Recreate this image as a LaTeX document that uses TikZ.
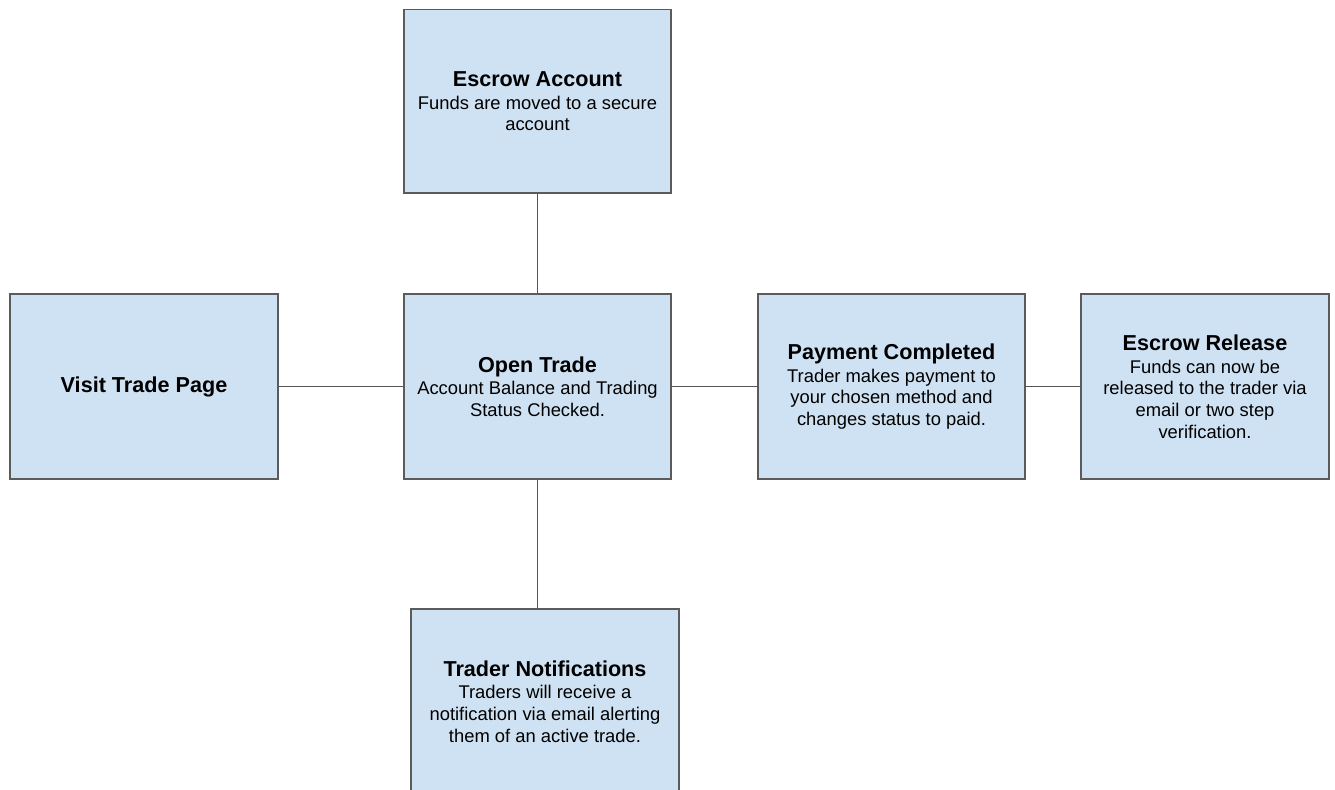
\documentclass[tikz,border=0pt]{standalone}
\usepackage{fontspec}
\setmainfont{Liberation Sans}

\definecolor{boxfill}{HTML}{CFE2F3}
\definecolor{boxline}{HTML}{5B5B5B}
\definecolor{linkline}{HTML}{555555}
\newcommand{\bodysize}{\fontsize{10.46}{12.3}\selectfont}
\newcommand{\titlesize}{\fontsize{12.3}{12.3}\selectfont\bfseries}

\tikzset{
	stage/.style={draw=boxline, line width=0.8pt, fill=boxfill, inner sep=0pt, align=center,
		minimum width=5.34cm, minimum height=3.7cm, font=\bodysize},
	link/.style={draw=linkline, line width=0.6pt}
}

\begin{document}
\begin{tikzpicture}[x=0.02cm, y=-0.02cm]
	\useasboundingbox (0,0) rectangle (1335,789);
	\clip (0,0) rectangle (1335,789);
	%Escrow Account
		\node[stage, minimum height=3.68cm] (escrow) at (537.5,101.2) {{\titlesize Escrow Account}\\[0.6pt]Funds are moved to a secure\\account};
	%Visit Trade Page
		\node[stage, minimum width=5.36cm] (visit) at (144,386.5) {{\titlesize Visit Trade Page}};
	%Open Trade
		\node[stage] (open) at (537.5,386.5) {{\titlesize Open Trade}\\[0.6pt]Account Balance and Trading\\Status Checked.};
	%Payment Completed
		\node[stage] (payment) at (891.5,386.5) {{\titlesize Payment Completed}\\[0.6pt]Trader makes payment to\\your chosen method and\\changes status to paid.};
	%Escrow Release
		\node[stage, minimum width=4.96cm] (release) at (1205,386.5) {{\titlesize Escrow Release}\\[0.6pt]Funds can now be\\released to the trader via\\email or two step\\verification.};
	%Trader Notifications
		\node[stage, minimum width=5.36cm] (notify) at (545,701.5) {{\titlesize Trader Notifications}\\[0.6pt]Traders will receive a\\notification via email alerting\\them of an active trade.};
	%Links
		\draw[link] (escrow.south) -- (open.north);
		\draw[link] (visit.east) -- (open.west);
		\draw[link] (open.east) -- (payment.west);
		\draw[link] (payment.east) -- (release.west);
		\draw[link] (open.south) -- (open.south |- notify.north);
\end{tikzpicture}
\end{document}
